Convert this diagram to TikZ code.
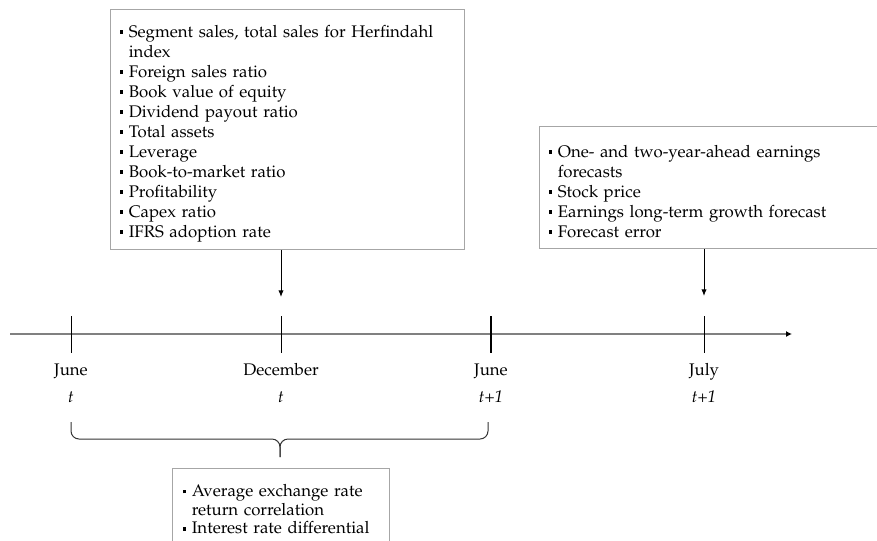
\documentclass[tikz,border=0pt]{standalone}
\usepackage[T1]{fontenc}
\usepackage{mathpazo}
\usetikzlibrary{arrows.meta}
\newcommand{\sqb}{\makebox[7pt][l]{\rule[2.4pt]{2.8pt}{2.8pt}}}
\newcommand{\itm}{\par\hangindent=7pt\hangafter=1\noindent\sqb}
\tikzset{
  varbox/.style={draw=black!35, line width=0.75pt, anchor=north west, align=left, inner ysep=0pt},
  tickmark/.style={line width=0.75pt},
  feed/.style={line width=0.75pt, -{Latex[length=5pt,width=4pt]}},
  bracepart/.style={black!80, line width=0.75pt, rounded corners=6pt},
}
\begin{document}
\begin{tikzpicture}[x=0.75pt,y=-0.75pt,font=\fontsize{12.6}{15}\selectfont]
\useasboundingbox (0,0) rectangle (877,540);
\coordinate (axs) at (10,334);
\coordinate (axe) at (792,334);
\coordinate (jun1) at (71,334);
\coordinate (dec) at (281,334);
\coordinate (jun2) at (491,334);
\coordinate (jul) at (704,334);
\draw[black!50, line width=1.1pt, -{Latex[length=4.5pt,width=4.5pt,color=black]}] (axs) -- (axe);
\foreach \t in {jun1,dec,jul}
  \draw[tickmark] (\t) ++(0,-18) -- ++(0,37);
\draw[tickmark, line width=1.2pt] (jun2) ++(0,-18) -- ++(0,37);
\node[anchor=base] (mjun1) at (71,375) {June};
\node[anchor=base] (mdec) at (281,375) {December};
\node[anchor=base] (mjun2) at (491,375) {June};
\node[anchor=base] (mjul) at (704,375) {July};
\node[anchor=base] (yjun1) at (71,402) {\textit{t}};
\node[anchor=base] (ydec) at (281,402) {\textit{t}};
\node[anchor=base] (yjun2) at (491,402) {\textit{t+1}};
\node[anchor=base] (yjul) at (704,402) {\textit{t+1}};
\node[varbox, inner xsep=6.75pt, text width=252pt, minimum height=180pt] (firm) at (110,9) {%
\itm Segment sales, total sales for Herfindahl\newline index
\itm Foreign sales ratio
\itm Book value of equity
\itm Dividend payout ratio
\itm Total assets
\itm Leverage
\itm Book-to-market ratio
\itm Profitability
\itm Capex ratio
\itm IFRS adoption rate\par\vspace{5pt}};
\node[varbox, inner xsep=6.75pt, text width=242pt, minimum height=91.5pt] (ana) at (539,126) {%
\itm One- and two-year-ahead earnings\newline forecasts
\itm Stock price
\itm Earnings long-term growth forecast
\itm Forecast error\par\vspace{6pt}};
\node[varbox, inner xsep=7.5pt, inner ysep=7pt, text width=147.75pt, font=\fontsize{12.6}{14}\selectfont] (fx) at (172,468) {%
\itm Average exchange rate\newline return correlation
\itm Interest rate differential};
\coordinate (decin) at (281,297);
\coordinate (julin) at (704,296);
\draw[feed] (firm.south -| decin) -- (decin);
\draw[feed] (ana.south -| julin) -- (julin);
\coordinate (brl) at (71,422);
\coordinate (brr) at (488,422);
\coordinate (brc) at (280,439);
\coordinate (brm) at (280,457);
\draw[bracepart] (brl) |- (brc) -- (brm);
\draw[bracepart] (brr) |- (brc) -- (brm);
\end{tikzpicture}
\end{document}
